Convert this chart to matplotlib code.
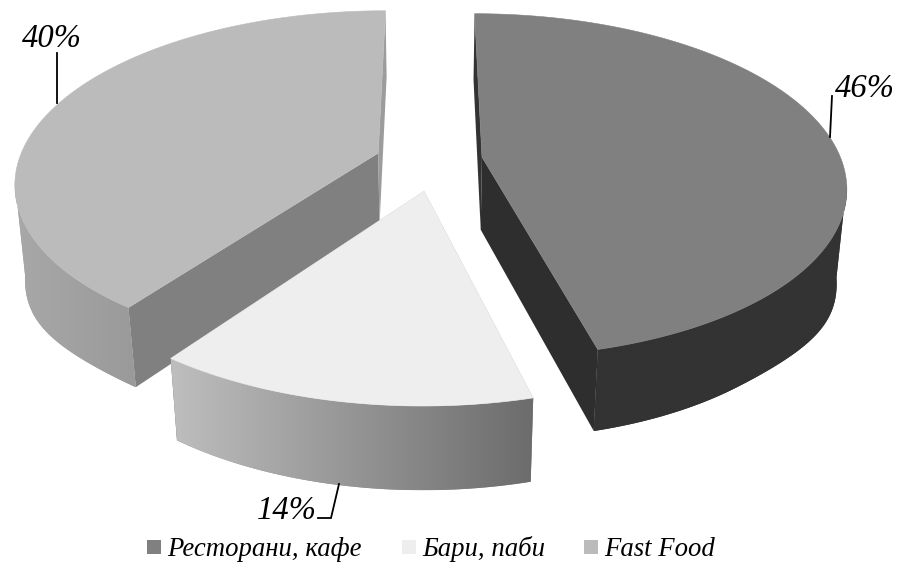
import numpy as np
import matplotlib
matplotlib.use("Agg")
import matplotlib.pyplot as plt
from matplotlib.colors import LinearSegmentedColormap
from matplotlib.patches import Polygon, Rectangle

plt.rcParams['font.family'] = ['Liberation Serif', 'DejaVu Serif']

categories = ['Ресторани, кафе', 'Бари, паби', 'Fast Food']
shares = [46, 14, 40]

top_colors = ['#808080', '#eeeeee', '#bbbbbb']
start_wall_colors = ['#333333', '#8a8a8a', '#808080']
end_wall_colors = ['#2e2e2e', '#8a8a8a', '#9c9c9c']
rim_stops = [['#333333', '#333333'], ['#bebebe', '#6c6c6c'], ['#a8a8a8', '#9a9a9a']]
# plane offset of each slice, x then y
explode = [(0.145, 0.191), (-0.016, -0.006), (-0.145, 0.215)]
draw_order = [2, 0, 1]

# camera for the tilted disc
CX, CY = 430, 190
A, B = 370, 178
PERSP = 0.17
DEPTH = 76
SHRINK = 0.025
SIDE_BULGE = 20
FRONT_LIMIT = 0.05


def project(x, y, z):
    w = (1 + PERSP * y) * (1 + SHRINK * z)
    return CX + A * x / w, CY + (-B * y + DEPTH * z) / w


def arc_points(start, end, off, z):
    theta = np.radians(np.linspace(start, end, 160))
    x = off[0] + np.sin(theta)
    y = off[1] + np.cos(theta)
    sx, sy = project(x, y, z)
    if z > 0:
        # lower rim hangs a bit further at the sides of the disc
        sy = sy + SIDE_BULGE * np.clip(1 - (y / 0.6) ** 2, 0, 1) ** 2
    return sx, sy, y


def draw_slice(ax, i, start, end):
    off = explode[i]
    tx, ty, plane_y = arc_points(start, end, off, 0)
    bx, by, _ = arc_points(start, end, off, 1)
    ax0, ay0 = project(off[0], off[1], 0)
    ax1, ay1 = project(off[0], off[1], 1)

    # cut walls go first, rim and top face paint over the hidden parts
    ax.add_patch(Polygon([(tx[0], ty[0]), (bx[0], by[0]), (ax1, ay1), (ax0, ay0)],
                         closed=True, fc=start_wall_colors[i], ec='none', zorder=1))
    ax.add_patch(Polygon([(tx[-1], ty[-1]), (bx[-1], by[-1]), (ax1, ay1), (ax0, ay0)],
                         closed=True, fc=end_wall_colors[i], ec='none', zorder=1))

    # outer rim: only the part facing the viewer, with a left to right gradient
    front = plane_y <= FRONT_LIMIT
    outline = np.column_stack([np.r_[tx[front], bx[front][::-1]], np.r_[ty[front], by[front][::-1]]])
    cmap = LinearSegmentedColormap.from_list('rim', rim_stops[i])
    ax.add_patch(Polygon(outline, closed=True, fc=cmap(0.5), ec='none', zorder=2))
    band = Polygon(outline, closed=True, fc='none', ec='none', transform=ax.transData)
    ax.add_patch(band)
    x_lo, x_hi = outline[:, 0].min(), outline[:, 0].max()
    y_lo, y_hi = outline[:, 1].min(), outline[:, 1].max()
    grad = np.linspace(0, 1, 256).reshape(1, -1)
    im = ax.imshow(grad, cmap=cmap, extent=[x_lo, x_hi, y_hi, y_lo], aspect='auto', zorder=2, interpolation='bilinear')
    im.set_clip_path(band)

    # top face
    ax.add_patch(Polygon(np.column_stack([np.r_[ax0, tx], np.r_[ay0, ty]]),
                         closed=True, fc=top_colors[i], ec=top_colors[i], lw=0.4, zorder=3))


fig = plt.figure(figsize=(8.97, 5.62), dpi=100)

edges = np.r_[0, np.cumsum(shares)] * 3.6
for i in draw_order:
    # every slice gets its own stacked axes so the painter order holds
    ax = fig.add_axes([0, 0, 1, 1], label=f'slice{i}')
    ax.axis('off')
    ax.patch.set_alpha(0)
    draw_slice(ax, i, edges[i], edges[i + 1])
    ax.set_xlim(0, 897)
    ax.set_ylim(562, 0)

over = fig.add_axes([0, 0, 1, 1], label='labels')
over.set_xlim(0, 897)
over.set_ylim(562, 0)
over.axis('off')
over.patch.set_alpha(0)

# percentage labels and their leader lines
label_pos = [(835, 97), (257, 519), (22, 47)]
leaders = [[(832, 96), (830, 137)],
           [(318, 518), (331, 518), (339, 484)],
           [(57, 53), (57, 103)]]
for share, pos, line in zip(shares, label_pos, leaders):
    over.text(pos[0], pos[1], f'{share}%', fontsize=23.5, style='italic', ha='left', va='baseline', color='black')
    xs, ys = zip(*line)
    over.plot(xs, ys, color='black', lw=1.3, solid_joinstyle='miter')

# legend row
swatch_x = [147, 402, 584]
text_x = [167, 422, 604]
for name, x, tx, color in zip(categories, swatch_x, text_x, top_colors):
    over.add_patch(Rectangle((x, 540), 14, 14, fc=color, ec='none'))
    over.text(tx, 556, name, fontsize=19.3, style='italic', ha='left', va='baseline', color='black')

fig.savefig('out.png', dpi=100, facecolor='white')
